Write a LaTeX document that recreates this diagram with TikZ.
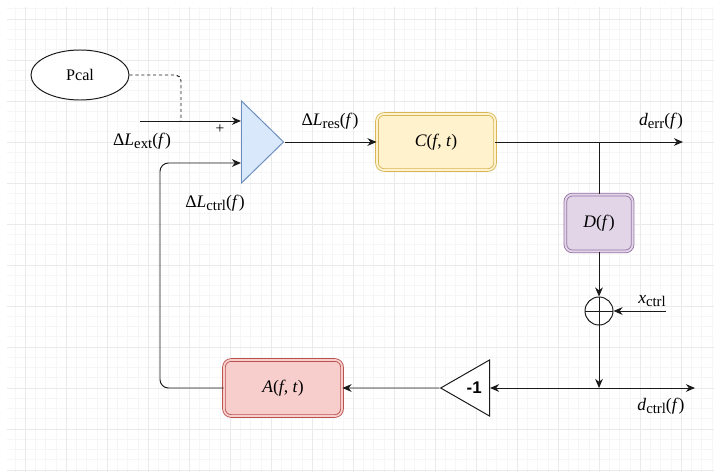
\documentclass[tikz,border=0pt]{standalone}
\usepackage{fontspec}
\setmainfont{Liberation Serif}
\newfontfamily\gainfont{Liberation Sans}
\usetikzlibrary{arrows.meta,shapes.geometric}
\definecolor{gridminor}{HTML}{F6F6F6}
\definecolor{gridmajor}{HTML}{EAEAEA}
\definecolor{ampfill}{HTML}{DAE8FC}
\definecolor{ampdraw}{HTML}{6C8EBF}
\definecolor{sensfill}{HTML}{FFF2CC}
\definecolor{sensdraw}{HTML}{D6B656}
\definecolor{digfill}{HTML}{E1D5E7}
\definecolor{digdraw}{HTML}{9673A6}
\definecolor{actfill}{HTML}{F8CECC}
\definecolor{actdraw}{HTML}{B85450}
\definecolor{wire}{HTML}{1A1A1A}
\newcommand{\lsub}[1]{\raisebox{-0.45ex}{\fontsize{10.5}{12}\selectfont #1}}
\begin{document}
\begin{tikzpicture}[x=0.025cm, y=-0.025cm, line width=0.7pt, >={Stealth[length=6.5pt,width=5.5pt]},
    every node/.style={font=\fontsize{12.5}{15}\selectfont},
    block/.style={rounded corners=5pt, line width=0.6pt, double distance=1.3pt, minimum width=2.95cm, minimum height=1.4cm, inner sep=0pt},
    sig/.style={inner sep=1pt}]
  \useasboundingbox (0,0) rectangle (714,472);
  \begin{scope}
    \clip (7,8) rectangle (714,471);
    \foreach \i in {-2,...,67} \draw[gridminor, line width=0.5pt] ({25.3+10.25*\i},0) -- ++(0,480);
    \foreach \i in {-2,...,45} \draw[gridminor, line width=0.5pt] (0,{19+10.25*\i}) -- ++(720,0);
    \foreach \i in {0,...,16} \draw[gridmajor, line width=0.5pt] ({25.3+41*\i},0) -- ++(0,480);
    \foreach \i in {0,...,11} \draw[gridmajor, line width=0.5pt] (0,{19+41*\i}) -- ++(720,0);
  \end{scope}

  \node[draw=wire, ellipse, fill=white, minimum width=2.45cm, minimum height=1.25cm, inner sep=0pt, font=\fontsize{11.5}{14}\selectfont] (pcal) at (80,75) {Pcal};
  \node[draw=ampdraw, fill=ampfill, isosceles triangle, isosceles triangle stretches, minimum width=2.05cm, minimum height=1.05cm, inner sep=0pt, anchor=west] (sum) at (241,142) {};
  \node[block, draw=sensdraw, fill=sensfill, double=sensfill] (C) at (436,142) {\textit{C}(\textit{f}, \textit{t})};
  \node[block, draw=digdraw, fill=digfill, double=digfill, minimum width=1.68cm, minimum height=1.42cm] (D) at (599,223) {\textit{D}(\textit{f})};
  \node[draw=wire, circle, minimum size=0.7cm, inner sep=0pt, fill=white,
    path picture={\draw[wire, line width=0.6pt] (path picture bounding box.north) -- (path picture bounding box.south) (path picture bounding box.west) -- (path picture bounding box.east);}] (mix) at (599,311) {};
  \node[draw=wire, fill=white, isosceles triangle, isosceles triangle stretches, shape border rotate=180, minimum width=1.4cm, minimum height=1.22cm, inner sep=0pt, anchor=east, font=\gainfont\bfseries\fontsize{12}{14}\selectfont] (neg) at (490,388) {-1};
  \node[block, draw=actdraw, fill=actfill, double=actfill] (A) at (283,388) {\textit{A}(\textit{f}, \textit{t})};

  \coordinate (extin) at (140,121);
  \coordinate (pcalin) at (181,121);
  \coordinate (loop) at (160,163);
  \coordinate (split) at (599,142);
  \coordinate (derr) at (683,142);
  \coordinate (xin) at (666,311);
  \coordinate (dsplit) at (599,388);
  \coordinate (dctrl) at (695,388);

  \node[sig] (lext) at (142,141) {Δ\textit{L}\lsub{ext}(\textit{f})};
  \node[sig, font=\fontsize{11}{13}\selectfont] (plus) at (220,129) {+};
  \node[sig] (lctrl) at (215,203) {Δ\textit{L}\lsub{ctrl}(\textit{f})};
  \node[sig] (lres) at (330,121) {Δ\textit{L}\lsub{res}(\textit{f})};
  \node[sig] (lerr) at (661,121) {\textit{d}\lsub{err}(\textit{f})};
  \node[sig] (lx) at (652,301) {\textit{x}\lsub{ctrl}};
  \node[sig] (lctrlout) at (661,406) {\textit{d}\lsub{ctrl}(\textit{f})};

  \draw[wire, dash pattern=on 2.2pt off 2pt, rounded corners=4pt] (pcal.east) -| (pcalin);
  \draw[wire, ->] (extin) -- (extin -| sum.west);
  \draw[wire, ->] (sum.apex) -- (C.west);
  \draw[wire, ->] (C.east) -- (derr);
  \draw[wire] (split) -- (D.north);
  \draw[wire, ->] (D.south) -- (mix.north);
  \draw[wire, ->] (xin) -- (mix.east);
  \draw[wire, ->] (mix.south) -- (dsplit);
  \draw[wire, ->] (dsplit) -- (dctrl);
  \draw[wire, ->] (dsplit) -- (neg.east);
  \draw[wire, ->] (neg.apex) -- (A.east);
  \draw[wire, ->, rounded corners=6pt] (A.west) -| (loop) -- (loop -| sum.west);
\end{tikzpicture}
\end{document}
